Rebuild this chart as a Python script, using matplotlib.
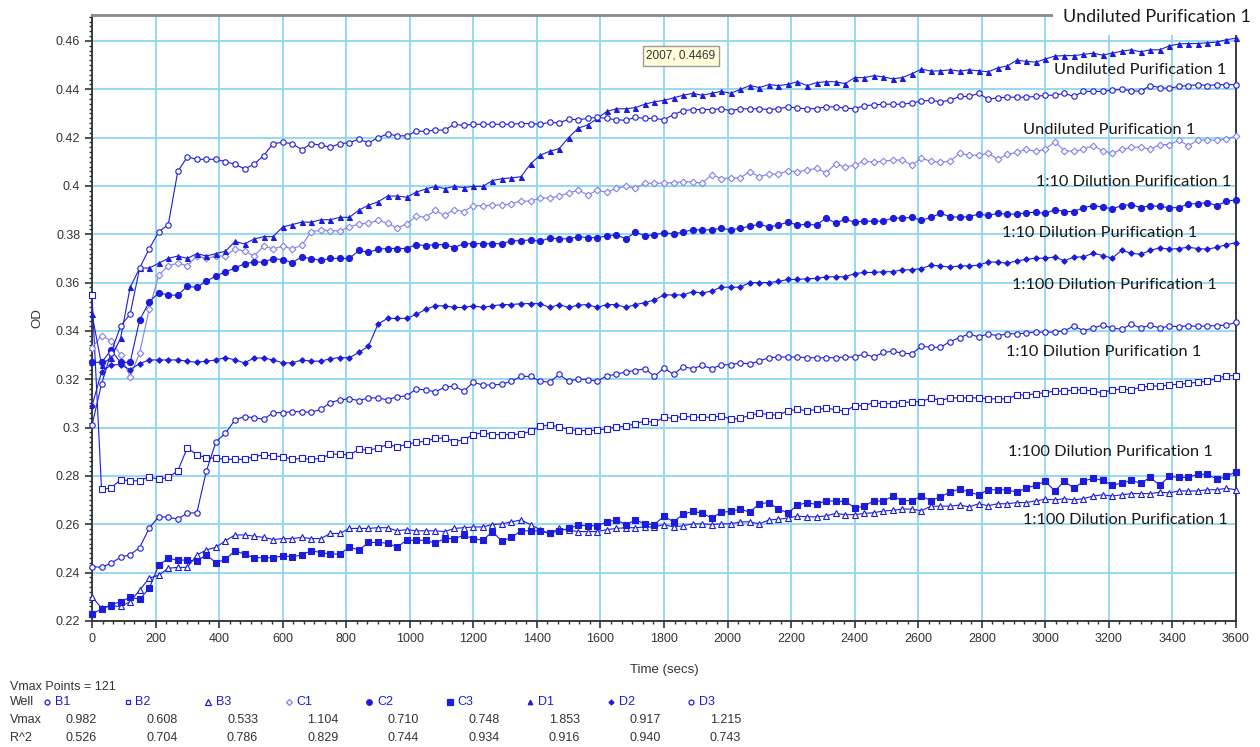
import numpy as np
import matplotlib.pyplot as plt
from matplotlib.ticker import MultipleLocator, FuncFormatter, AutoMinorLocator

# plate reader kinetic read, one point every 30 s
t = np.arange(0, 3601, 30)

b1 = [0.2425, 0.2422, 0.2439, 0.2464, 0.2474, 0.2504, 0.2584, 0.2632, 0.2629, 0.2622,
      0.2646, 0.2648, 0.2821, 0.2941, 0.2977, 0.3032, 0.3046, 0.3041, 0.3034, 0.3062,
      0.3062, 0.3066, 0.3066, 0.3063, 0.3076, 0.3103, 0.3115, 0.3119, 0.3112, 0.3123,
      0.3123, 0.3115, 0.3128, 0.3131, 0.3160, 0.3156, 0.3148, 0.3167, 0.3172, 0.3151,
      0.3188, 0.3176, 0.3176, 0.3180, 0.3192, 0.3212, 0.3212, 0.3192, 0.3188, 0.3220,
      0.3192, 0.3201, 0.3199, 0.3192, 0.3215, 0.3220, 0.3231, 0.3236, 0.3244, 0.3212,
      0.3247, 0.3220, 0.3252, 0.3244, 0.3257, 0.3244, 0.3260, 0.3260, 0.3268, 0.3263,
      0.3276, 0.3289, 0.3292, 0.3292, 0.3292, 0.3289, 0.3289, 0.3289, 0.3289, 0.3292,
      0.3292, 0.3305, 0.3292, 0.3311, 0.3316, 0.3308, 0.3305, 0.3337, 0.3332, 0.3332,
      0.3356, 0.3372, 0.3388, 0.3375, 0.3388, 0.3380, 0.3388, 0.3388, 0.3391, 0.3396,
      0.3394, 0.3396, 0.3401, 0.3420, 0.3401, 0.3412, 0.3424, 0.3412, 0.3407, 0.3428,
      0.3412, 0.3424, 0.3412, 0.3420, 0.3418, 0.3421, 0.3419, 0.3420, 0.3422, 0.3424,
      0.3436]

b2 = [0.3550, 0.2745, 0.2750, 0.2785, 0.2780, 0.2780, 0.2797, 0.2786, 0.2794, 0.2821,
      0.2917, 0.2887, 0.2876, 0.2873, 0.2869, 0.2869, 0.2869, 0.2880, 0.2887, 0.2883,
      0.2880, 0.2869, 0.2873, 0.2869, 0.2873, 0.2890, 0.2890, 0.2887, 0.2910, 0.2907,
      0.2915, 0.2931, 0.2920, 0.2931, 0.2939, 0.2944, 0.2955, 0.2958, 0.2942, 0.2950,
      0.2971, 0.2979, 0.2971, 0.2971, 0.2971, 0.2974, 0.2984, 0.3006, 0.3011, 0.3003,
      0.2992, 0.2988, 0.2987, 0.2990, 0.2995, 0.3003, 0.3006, 0.3016, 0.3027, 0.3022,
      0.3043, 0.3038, 0.3048, 0.3043, 0.3043, 0.3043, 0.3048, 0.3035, 0.3038, 0.3051,
      0.3059, 0.3054, 0.3051, 0.3070, 0.3075, 0.3070, 0.3075, 0.3080, 0.3075, 0.3067,
      0.3091, 0.3091, 0.3103, 0.3099, 0.3099, 0.3103, 0.3107, 0.3107, 0.3123, 0.3112,
      0.3123, 0.3123, 0.3123, 0.3123, 0.3119, 0.3119, 0.3119, 0.3135, 0.3135, 0.3140,
      0.3145, 0.3151, 0.3151, 0.3156, 0.3156, 0.3151, 0.3144, 0.3156, 0.3160, 0.3156,
      0.3167, 0.3172, 0.3172, 0.3176, 0.3180, 0.3183, 0.3188, 0.3192, 0.3204, 0.3215,
      0.3215]

b3 = [0.2301, 0.2253, 0.2263, 0.2260, 0.2280, 0.2328, 0.2377, 0.2390, 0.2418, 0.2422,
      0.2422, 0.2473, 0.2494, 0.2505, 0.2532, 0.2556, 0.2556, 0.2551, 0.2546, 0.2537,
      0.2541, 0.2541, 0.2546, 0.2541, 0.2541, 0.2562, 0.2562, 0.2583, 0.2583, 0.2583,
      0.2586, 0.2586, 0.2573, 0.2578, 0.2573, 0.2573, 0.2573, 0.2570, 0.2583, 0.2586,
      0.2589, 0.2589, 0.2599, 0.2602, 0.2610, 0.2618, 0.2599, 0.2578, 0.2562, 0.2583,
      0.2575, 0.2570, 0.2570, 0.2570, 0.2578, 0.2583, 0.2586, 0.2586, 0.2589, 0.2589,
      0.2599, 0.2589, 0.2594, 0.2602, 0.2602, 0.2599, 0.2602, 0.2602, 0.2610, 0.2610,
      0.2602, 0.2618, 0.2621, 0.2626, 0.2634, 0.2631, 0.2631, 0.2635, 0.2645, 0.2640,
      0.2640, 0.2645, 0.2648, 0.2655, 0.2658, 0.2663, 0.2663, 0.2656, 0.2675, 0.2675,
      0.2675, 0.2680, 0.2672, 0.2685, 0.2677, 0.2685, 0.2685, 0.2690, 0.2690, 0.2697,
      0.2704, 0.2701, 0.2706, 0.2701, 0.2706, 0.2717, 0.2722, 0.2717, 0.2722, 0.2727,
      0.2727, 0.2727, 0.2733, 0.2730, 0.2738, 0.2738, 0.2738, 0.2743, 0.2743, 0.2749,
      0.2743]

c1 = [0.3330, 0.3380, 0.3360, 0.3300, 0.3210, 0.3310, 0.3490, 0.3630, 0.3670, 0.3680,
      0.3670, 0.3710, 0.3700, 0.3710, 0.3710, 0.3740, 0.3730, 0.3710, 0.3750, 0.3740,
      0.3750, 0.3740, 0.3754, 0.3810, 0.3817, 0.3815, 0.3814, 0.3830, 0.3842, 0.3846,
      0.3857, 0.3846, 0.3825, 0.3842, 0.3875, 0.3870, 0.3899, 0.3878, 0.3902, 0.3894,
      0.3918, 0.3918, 0.3921, 0.3921, 0.3926, 0.3937, 0.3937, 0.3950, 0.3950, 0.3958,
      0.3970, 0.3983, 0.3963, 0.3982, 0.3974, 0.3990, 0.3998, 0.3990, 0.4011, 0.4011,
      0.4011, 0.4014, 0.4017, 0.4017, 0.4011, 0.4046, 0.4030, 0.4033, 0.4033, 0.4059,
      0.4038, 0.4049, 0.4049, 0.4062, 0.4059, 0.4066, 0.4072, 0.4054, 0.4091, 0.4078,
      0.4086, 0.4102, 0.4098, 0.4102, 0.4107, 0.4107, 0.4086, 0.4114, 0.4102, 0.4098,
      0.4102, 0.4135, 0.4127, 0.4127, 0.4135, 0.4111, 0.4130, 0.4139, 0.4151, 0.4143,
      0.4151, 0.4183, 0.4146, 0.4143, 0.4151, 0.4167, 0.4146, 0.4135, 0.4151, 0.4159,
      0.4162, 0.4151, 0.4171, 0.4171, 0.4188, 0.4167, 0.4188, 0.4191, 0.4188, 0.4194,
      0.4207]

c2 = [0.3270, 0.3270, 0.3320, 0.3270, 0.3270, 0.3445, 0.3520, 0.3558, 0.3548, 0.3548,
      0.3585, 0.3580, 0.3606, 0.3627, 0.3645, 0.3660, 0.3678, 0.3685, 0.3685, 0.3699,
      0.3695, 0.3683, 0.3706, 0.3699, 0.3692, 0.3700, 0.3700, 0.3700, 0.3733, 0.3725,
      0.3738, 0.3741, 0.3741, 0.3741, 0.3757, 0.3753, 0.3757, 0.3757, 0.3745, 0.3761,
      0.3761, 0.3761, 0.3761, 0.3761, 0.3773, 0.3773, 0.3777, 0.3770, 0.3785, 0.3781,
      0.3781, 0.3790, 0.3786, 0.3786, 0.3793, 0.3798, 0.3781, 0.3809, 0.3793, 0.3798,
      0.3806, 0.3802, 0.3809, 0.3818, 0.3818, 0.3818, 0.3825, 0.3818, 0.3825, 0.3833,
      0.3841, 0.3830, 0.3838, 0.3850, 0.3838, 0.3841, 0.3838, 0.3867, 0.3846, 0.3862,
      0.3850, 0.3854, 0.3854, 0.3854, 0.3867, 0.3867, 0.3870, 0.3857, 0.3870, 0.3886,
      0.3873, 0.3870, 0.3873, 0.3883, 0.3878, 0.3886, 0.3883, 0.3883, 0.3889, 0.3891,
      0.3886, 0.3902, 0.3894, 0.3894, 0.3910, 0.3918, 0.3913, 0.3905, 0.3918, 0.3923,
      0.3910, 0.3918, 0.3915, 0.3910, 0.3910, 0.3926, 0.3926, 0.3931, 0.3918, 0.3937,
      0.3942]

c3 = [0.2229, 0.2249, 0.2267, 0.2280, 0.2298, 0.2290, 0.2335, 0.2431, 0.2459, 0.2452,
      0.2452, 0.2448, 0.2473, 0.2441, 0.2455, 0.2491, 0.2476, 0.2462, 0.2462, 0.2462,
      0.2469, 0.2466, 0.2473, 0.2491, 0.2483, 0.2477, 0.2477, 0.2506, 0.2493, 0.2525,
      0.2525, 0.2522, 0.2506, 0.2534, 0.2534, 0.2534, 0.2522, 0.2541, 0.2541, 0.2554,
      0.2541, 0.2534, 0.2570, 0.2530, 0.2546, 0.2573, 0.2573, 0.2573, 0.2562, 0.2573,
      0.2583, 0.2596, 0.2594, 0.2594, 0.2610, 0.2618, 0.2599, 0.2618, 0.2602, 0.2599,
      0.2634, 0.2610, 0.2642, 0.2653, 0.2647, 0.2626, 0.2650, 0.2653, 0.2663, 0.2650,
      0.2685, 0.2690, 0.2663, 0.2647, 0.2679, 0.2690, 0.2682, 0.2698, 0.2695, 0.2695,
      0.2669, 0.2674, 0.2698, 0.2695, 0.2717, 0.2698, 0.2698, 0.2717, 0.2698, 0.2714,
      0.2733, 0.2746, 0.2733, 0.2722, 0.2743, 0.2743, 0.2743, 0.2733, 0.2749, 0.2762,
      0.2778, 0.2738, 0.2778, 0.2749, 0.2778, 0.2791, 0.2782, 0.2762, 0.2770, 0.2782,
      0.2770, 0.2794, 0.2762, 0.2798, 0.2794, 0.2794, 0.2807, 0.2807, 0.2786, 0.2798,
      0.2818]

d1 = [0.3470, 0.3260, 0.3290, 0.3370, 0.3580, 0.3660, 0.3660, 0.3680, 0.3700, 0.3710,
      0.3700, 0.3720, 0.3710, 0.3720, 0.3730, 0.3770, 0.3760, 0.3780, 0.3790, 0.3790,
      0.3830, 0.3840, 0.3850, 0.3850, 0.3860, 0.3860, 0.3870, 0.3870, 0.3900, 0.3920,
      0.3934, 0.3958, 0.3958, 0.3953, 0.3974, 0.3987, 0.3998, 0.3989, 0.3998, 0.3993,
      0.3998, 0.3998, 0.4022, 0.4030, 0.4033, 0.4038, 0.4091, 0.4127, 0.4143, 0.4154,
      0.4200, 0.4239, 0.4252, 0.4279, 0.4308, 0.4319, 0.4319, 0.4324, 0.4338, 0.4348,
      0.4354, 0.4364, 0.4375, 0.4383, 0.4375, 0.4383, 0.4391, 0.4383, 0.4399, 0.4415,
      0.4407, 0.4419, 0.4415, 0.4420, 0.4431, 0.4415, 0.4427, 0.4431, 0.4431, 0.4423,
      0.4448, 0.4448, 0.4456, 0.4451, 0.4443, 0.4448, 0.4464, 0.4483, 0.4475, 0.4476,
      0.4480, 0.4475, 0.4480, 0.4476, 0.4472, 0.4488, 0.4496, 0.4520, 0.4515, 0.4512,
      0.4525, 0.4537, 0.4539, 0.4539, 0.4544, 0.4549, 0.4541, 0.4549, 0.4557, 0.4563,
      0.4555, 0.4563, 0.4563, 0.4579, 0.4587, 0.4589, 0.4589, 0.4592, 0.4595, 0.4605,
      0.4611]

d2 = [0.3090, 0.3230, 0.3260, 0.3260, 0.3240, 0.3265, 0.3280, 0.3280, 0.3280, 0.3280,
      0.3275, 0.3270, 0.3275, 0.3280, 0.3290, 0.3280, 0.3268, 0.3288, 0.3288, 0.3280,
      0.3268, 0.3268, 0.3280, 0.3275, 0.3275, 0.3285, 0.3290, 0.3289, 0.3311, 0.3337,
      0.3428, 0.3452, 0.3452, 0.3452, 0.3468, 0.3489, 0.3504, 0.3504, 0.3497, 0.3497,
      0.3504, 0.3497, 0.3504, 0.3509, 0.3509, 0.3513, 0.3513, 0.3513, 0.3497, 0.3509,
      0.3497, 0.3507, 0.3509, 0.3497, 0.3509, 0.3509, 0.3497, 0.3509, 0.3517, 0.3528,
      0.3549, 0.3549, 0.3549, 0.3562, 0.3557, 0.3565, 0.3581, 0.3581, 0.3581, 0.3600,
      0.3600, 0.3600, 0.3605, 0.3613, 0.3613, 0.3616, 0.3617, 0.3624, 0.3624, 0.3624,
      0.3637, 0.3642, 0.3642, 0.3645, 0.3645, 0.3653, 0.3653, 0.3658, 0.3672, 0.3669,
      0.3664, 0.3669, 0.3669, 0.3672, 0.3685, 0.3685, 0.3680, 0.3690, 0.3696, 0.3701,
      0.3701, 0.3706, 0.3690, 0.3706, 0.3706, 0.3722, 0.3712, 0.3701, 0.3733, 0.3722,
      0.3717, 0.3733, 0.3744, 0.3738, 0.3741, 0.3746, 0.3741, 0.3738, 0.3746, 0.3757,
      0.3765]

d3 = [0.3010, 0.3180, 0.3310, 0.3420, 0.3470, 0.3660, 0.3740, 0.3810, 0.3840, 0.4060,
      0.4120, 0.4110, 0.4110, 0.4110, 0.4100, 0.4090, 0.4070, 0.4090, 0.4125, 0.4175,
      0.4180, 0.4175, 0.4150, 0.4175, 0.4168, 0.4160, 0.4175, 0.4178, 0.4194, 0.4178,
      0.4199, 0.4215, 0.4207, 0.4207, 0.4226, 0.4226, 0.4231, 0.4231, 0.4255, 0.4250,
      0.4255, 0.4255, 0.4255, 0.4255, 0.4255, 0.4258, 0.4258, 0.4255, 0.4263, 0.4260,
      0.4276, 0.4274, 0.4279, 0.4284, 0.4279, 0.4274, 0.4271, 0.4284, 0.4279, 0.4279,
      0.4274, 0.4295, 0.4311, 0.4316, 0.4316, 0.4316, 0.4319, 0.4311, 0.4319, 0.4319,
      0.4319, 0.4316, 0.4319, 0.4327, 0.4322, 0.4319, 0.4320, 0.4327, 0.4327, 0.4322,
      0.4319, 0.4332, 0.4335, 0.4338, 0.4338, 0.4338, 0.4343, 0.4351, 0.4354, 0.4348,
      0.4354, 0.4370, 0.4370, 0.4383, 0.4359, 0.4364, 0.4367, 0.4367, 0.4367, 0.4370,
      0.4375, 0.4375, 0.4383, 0.4370, 0.4391, 0.4391, 0.4391, 0.4396, 0.4399, 0.4394,
      0.4391, 0.4415, 0.4407, 0.4403, 0.4412, 0.4415, 0.4419, 0.4415, 0.4419, 0.4419,
      0.4419]

wells = ['B1', 'B2', 'B3', 'C1', 'C2', 'C3', 'D1', 'D2', 'D3']
vmax = ['0.982', '0.608', '0.533', '1.104', '0.710', '0.748', '1.853', '0.917', '1.215']
r2 = ['0.526', '0.704', '0.786', '0.829', '0.744', '0.934', '0.916', '0.940', '0.743']

# (label, x, y) of the sample notes written on the chart, in data units
notes = [('Undiluted Purification 1', 3055, 0.4699),
         ('Undiluted Purification 1', 3027, 0.4480),
         ('Undiluted Purification 1', 2930, 0.4231),
         ('1:10 Dilution Purification 1', 2970, 0.4016),
         ('1:10 Dilution Purification 1', 2863, 0.3805),
         ('1:100 Dilution Purification 1', 2895, 0.3590),
         ('1:10 Dilution Purification 1', 2876, 0.3313),
         ('1:100 Dilution Purification 1', 2882, 0.2899),
         ('1:100 Dilution Purification 1', 2930, 0.2618)]

blue = '#1c1cdc'
light = '#8080ee'
styles = {
    'B1': dict(marker='o', mfc='white', mec=blue, color=blue, ms=3.9),
    'B2': dict(marker='s', mfc='white', mec=blue, color=blue, ms=3.9),
    'B3': dict(marker='^', mfc='white', mec=blue, color=blue, ms=4.4),
    'C1': dict(marker='D', mfc='white', mec=light, color=light, ms=3.4),
    'C2': dict(marker='o', mfc=blue, mec=blue, color=blue, ms=4.4),
    'C3': dict(marker='s', mfc=blue, mec=blue, color=blue, ms=4.6),
    'D1': dict(marker='^', mfc=blue, mec=blue, color=blue, ms=3.6),
    'D2': dict(marker='D', mfc=blue, mec=blue, color=blue, ms=2.8),
    'D3': dict(marker='o', mfc='white', mec=blue, color=blue, ms=3.9),
}
series = dict(zip(wells, [b1, b2, b3, c1, c2, c3, d1, d2, d3]))

plt.rcParams['font.family'] = ['Liberation Sans', 'DejaVu Sans']

fig = plt.figure(figsize=(12.6, 7.47), dpi=100)
ax = fig.add_axes([92 / 1260, 1 - 621 / 747, 1144 / 1260, 606 / 747])

for w in wells:
    ax.plot(t, series[w], lw=0.8, mew=0.8, clip_on=False, zorder=3, **styles[w])

ax.set_xlim(0, 3600)
ax.set_ylim(0.22, 0.4707)
ax.xaxis.set_major_locator(MultipleLocator(200))
ax.xaxis.set_minor_locator(AutoMinorLocator(6))
ax.yaxis.set_major_locator(MultipleLocator(0.02))
ax.yaxis.set_minor_locator(MultipleLocator(0.002))
ax.yaxis.set_major_formatter(FuncFormatter(lambda v, p: f'{v:.2f}'.rstrip('0')))
ax.grid(True, which='major', color='#8fd6f0', lw=1.3, zorder=0)
ax.tick_params(which='major', length=5, width=1.2, labelsize=9, colors='#333333')
ax.tick_params(which='minor', length=2.5, width=1, colors='#333333')
for s in ['left', 'bottom', 'right']:
    ax.spines[s].set_color('#303030')
    ax.spines[s].set_linewidth(1.3)
ax.spines['top'].set_color('#8a8a8a')
ax.spines['top'].set_linewidth(2)

ax.set_xlabel('Time (secs)', fontsize=9.5, color='#333333', labelpad=14)
ax.set_ylabel('OD', fontsize=9.5, color='#333333', labelpad=9)

for i, (txt, x, y) in enumerate(notes):
    kw = dict(fontsize=12.9 if i == 0 else 11.8, family=['Lato', 'DejaVu Sans'],
              color='#1a1a1a', va='center', ha='left', zorder=5, clip_on=False)
    if i == 0:
        kw['bbox'] = dict(facecolor='white', edgecolor='none', pad=7)
    ax.text(x, y, txt, **kw)

# hover readout box
fig.text(681 / 1260, 1 - 56 / 747, '2007, 0.4469', fontsize=8.5, color='#333333',
         ha='center', va='center',
         bbox=dict(boxstyle='square,pad=0.3', facecolor='#ffffdc', edgecolor='#999999', lw=1))

# summary table under the plot
def fx(px):
    return px / 1260

def fy(py):
    return 1 - py / 747

tk = dict(fontsize=9, color='#333333', va='center')
fig.text(fx(10), fy(687), 'Vmax Points = 121', **tk)
fig.text(fx(10), fy(702), 'Well', **tk)
fig.text(fx(10), fy(720), 'Vmax', **tk)
fig.text(fx(10), fy(738), 'R^2', **tk)
for i, w in enumerate(wells):
    x0 = 47 + 80.5 * i
    st = styles[w]
    fig.lines.append(plt.Line2D([fx(x0)], [fy(702)], transform=fig.transFigure,
                                marker=st['marker'], mfc=st['mfc'], mec=st['mec'],
                                ms=st['ms'] * 0.9, mew=0.9, lw=0))
    fig.text(fx(x0 + 8), fy(702), w, fontsize=9, color=blue, va='center')
    fig.text(fx(x0 + 50), fy(720), vmax[i], ha='right', **tk)
    fig.text(fx(x0 + 50), fy(738), r2[i], ha='right', **tk)

fig.savefig('out.png', dpi=100)
